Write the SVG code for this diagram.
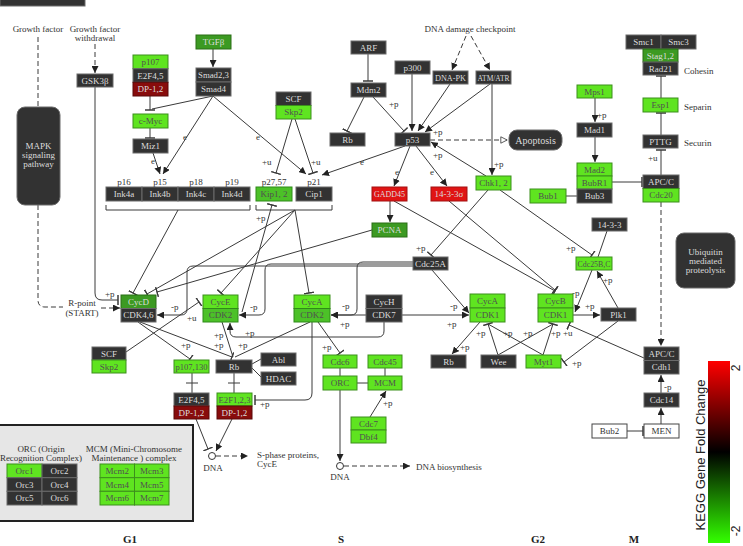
<svg xmlns="http://www.w3.org/2000/svg" width="743" height="546" viewBox="0 0 743 546">
<defs>
<style>
.k{fill:#323232;stroke:#6a6a6a;stroke-width:1}
.g{fill:#5fe420;stroke:#3c8f1c;stroke-width:1}
.m{fill:#3c9a22;stroke:#2a6e16;stroke-width:1}
.c{fill:#4cc128;stroke:#2f8a18;stroke-width:1}
.r{fill:#e01414;stroke:#a31010;stroke-width:1}
.d{fill:#880c0c;stroke:#5a0808;stroke-width:1}
.w{fill:#fff;stroke:#444;stroke-width:1}
text{font-family:"Liberation Serif",serif;font-size:9px}
.t{text-anchor:middle;dominant-baseline:central}
.l{fill:#dcdcdc}
.n{fill:#505050}
.lb{fill:#333}
.e path{fill:none;stroke:#3a3a3a;stroke-width:1}
.ds{stroke-dasharray:5 3}
.ph{font-weight:bold;font-size:11px;fill:#222;text-anchor:middle}
.sans{font-family:"Liberation Sans",sans-serif;font-size:13px;fill:#222;text-anchor:middle;dominant-baseline:central}
</style>
<marker id="a" viewBox="0 0 10 10" refX="10" refY="5" markerWidth="7" markerHeight="7" orient="auto" markerUnits="userSpaceOnUse"><path d="M0,0L10,5L0,10z" fill="#222"/></marker>
<marker id="i" viewBox="0 0 2 10" refX="1" refY="5" markerWidth="2" markerHeight="10" orient="auto" markerUnits="userSpaceOnUse"><path d="M1,0V10" stroke="#3a3a3a" stroke-width="1.5"/></marker>
<marker id="h" viewBox="0 0 10 10" refX="10" refY="5" markerWidth="8" markerHeight="8" orient="auto" markerUnits="userSpaceOnUse"><path d="M1,1L9,5L1,9z" fill="#fff" stroke="#333"/></marker>
<linearGradient id="fc" x1="0" y1="0" x2="0" y2="1"><stop offset="0" stop-color="#ff0000"/><stop offset="0.5" stop-color="#000"/><stop offset="1" stop-color="#33ff00"/></linearGradient>
</defs>
<rect width="743" height="546" fill="#fff"/>

<g id="title"><rect x="0" y="-10" width="85" height="16" class="k"/></g>

<!-- connectors -->
<g id="edges" class="e">
<path class="ds" d="M38 37V107"/>
<path class="ds" d="M95 44V73" marker-end="url(#a)"/>
<path class="ds" d="M38 205V300Q38 307 45 307H63"/>
<path class="ds" d="M101 308H120" marker-end="url(#a)"/>
<path class="ds" d="M466 36L452 70" marker-end="url(#a)"/>
<path class="ds" d="M471 36L490 70" marker-end="url(#a)"/>
<path class="ds" d="M430 140H508" marker-end="url(#h)"/>
<path class="ds" d="M661 202V346" marker-end="url(#a)"/>
<path class="ds" d="M216 456H248" marker-end="url(#a)"/>
<path class="ds" d="M344 466H410" marker-end="url(#a)"/>

<path d="M95 87V293Q95 300 102 300H118" marker-end="url(#i)"/>
<path d="M213 49V67" marker-end="url(#a)"/>
<path d="M150 96V110" marker-end="url(#i)"/>
<path d="M213 96L152 109"/>
<path d="M150 128V138" marker-end="url(#i)"/>
<path d="M153 153L160 174" marker-end="url(#a)"/>
<path d="M213 96L163 174" marker-end="url(#a)"/>
<path d="M213 96L306 174" marker-end="url(#a)"/>
<path d="M368 54V81" marker-end="url(#i)"/>
<path d="M364 97L347 131" marker-end="url(#i)"/>
<path d="M373 97L404 131" marker-end="url(#i)"/>
<path d="M412 74V131" marker-end="url(#a)"/>
<path d="M450 84L418 131" marker-end="url(#a)"/>
<path d="M490 84L425 132" marker-end="url(#a)"/>
<path d="M492 84V175" marker-end="url(#a)"/>
<path d="M486 176L431 142" marker-end="url(#a)"/>
<path d="M292 119L276 173" marker-end="url(#i)"/>
<path d="M295 119L313 173" marker-end="url(#i)"/>
<path d="M405 146L322 175" marker-end="url(#a)"/>
<path d="M410 146L394 186" marker-end="url(#a)"/>
<path d="M416 146L447 186" marker-end="url(#a)"/>
<path d="M390 201V222" marker-end="url(#a)"/>
<path d="M394 201L555 291" marker-end="url(#i)"/>
<path d="M449 201L555 290" marker-end="url(#i)"/>
<path d="M488 190L431 255" marker-end="url(#i)"/>
<path d="M500 190L592 255" marker-end="url(#i)"/>
<path d="M595 98V122" marker-end="url(#a)"/>
<path d="M595 137V162" marker-end="url(#a)"/>
<path d="M566 196H577"/>
<path d="M612 182H642" marker-end="url(#i)"/>
<path d="M661 175V150" marker-end="url(#i)"/>
<path d="M661 135V113" marker-end="url(#i)"/>
<path d="M661 98V76" marker-end="url(#i)"/>
<path d="M607 231L598 257"/>
<path d="M618 308L597 271" marker-end="url(#a)"/>
<path d="M592 270L575 312" marker-end="url(#a)"/>
<path d="M573 315H600" marker-end="url(#a)"/>
<path d="M618 321L564 362" marker-end="url(#i)"/>
<path d="M644 358L569 325" marker-end="url(#i)"/>
<path d="M498 355L488 324" marker-end="url(#i)"/>
<path d="M498 355L553 324"/>
<path d="M543 355L488 324"/>
<path d="M543 355L553 324" marker-end="url(#i)"/>
<path d="M480 322L452 354" marker-end="url(#a)"/>
<path d="M432 270L469 313" marker-end="url(#a)"/>
<path d="M402 315H469" marker-end="url(#a)"/>
<path d="M366 315H331" marker-end="url(#a)"/>
<path d="M384 322V331Q384 337 378 337H236Q230 337 230 331V323" marker-end="url(#a)"/>
<path d="M413 262H363Q357 262 357 268V309Q357 315 351 315H331" marker-end="url(#a)"/>
<path d="M413 264H271Q265 264 265 270V309Q265 315 259 315H239" marker-end="url(#a)"/>
<path d="M413 266H193Q187 266 187 272V309Q187 315 181 315H157" marker-end="url(#a)"/>
<path d="M372 230L157 292" marker-end="url(#i)"/>
<path d="M256 205V210H332V205"/>
<path d="M295 210L147 294" marker-end="url(#i)"/>
<path d="M295 210L221 293" marker-end="url(#i)"/>
<path d="M295 210L309 293" marker-end="url(#i)"/>
<path d="M106 205V210H250V205"/>
<path d="M178 210L133 293" marker-end="url(#i)"/>
<path d="M242 312L272 205" marker-end="url(#i)"/>
<path d="M126 352L199 302" marker-end="url(#i)"/>
<path d="M140 322L232 357" marker-end="url(#i)"/>
<path d="M138 322L190 359" marker-end="url(#i)"/>
<path d="M222 322L233 357"/>
<path d="M310 322L235 357"/>
<path d="M252 364L261 359"/>
<path d="M252 368L261 377"/>
<path d="M192 373V393M186 383H198"/>
<path d="M234 373V393M228 383H240"/>
<path d="M312 322V393Q312 400 305 400H255" marker-end="url(#i)"/>
<path d="M318 322L340 353" marker-end="url(#i)"/>
<path d="M340 368V376"/>
<path d="M385 368V376"/>
<path d="M357 383H368"/>
<path d="M370 417L386 391" marker-end="url(#a)"/>
<path d="M340 390V461" marker-end="url(#a)"/>
<path d="M196 419L208 449" marker-end="url(#i)"/>
<path d="M232 419L216 451" marker-end="url(#a)"/>
<path d="M661 393V375" marker-end="url(#a)"/>
<path d="M661 424V408" marker-end="url(#a)"/>
<path d="M627 431H643" marker-end="url(#i)"/>
</g>

<!-- edge labels -->
<g id="edge-labels" class="lb">
<text x="105" y="297">+p</text>
<text x="151" y="164">e</text>
<text x="183" y="140">e</text>
<text x="256" y="140">e</text>
<text x="389" y="107">+p</text>
<text x="433" y="135">+p</text>
<text x="433" y="158">+p</text>
<text x="494" y="167">+p</text>
<text x="262" y="165">+u</text>
<text x="311" y="165">+u</text>
<text x="360" y="165">e</text>
<text x="395" y="175">e</text>
<text x="430" y="175">e</text>
<text x="416" y="251">+p</text>
<text x="566" y="251">+p</text>
<text x="597" y="118">+p</text>
<text x="648" y="161">+u</text>
<text x="603" y="283">+p</text>
<text x="572" y="296">-p</text>
<text x="585" y="309">+p</text>
<text x="572" y="366">+p</text>
<text x="476" y="336">+p</text>
<text x="503" y="336">+p</text>
<text x="523" y="336">+p</text>
<text x="551" y="336">+p</text>
<text x="563" y="336">+u</text>
<text x="460" y="350">+p</text>
<text x="450" y="309">-p</text>
<text x="447" y="327">+p</text>
<text x="340" y="327">+p</text>
<text x="245" y="336">+p</text>
<text x="342" y="309">-p</text>
<text x="250" y="310">-p</text>
<text x="171" y="310">-p</text>
<text x="256" y="221">+p</text>
<text x="187" y="321">+u</text>
<text x="181" y="348">+p</text>
<text x="214" y="338">+p</text>
<text x="214" y="348">+p</text>
<text x="238" y="348">+p</text>
<text x="260" y="407">+p</text>
<text x="322" y="350">+p</text>
<text x="383" y="406">+p</text>
<text x="664" y="390">-p</text>
</g>

<!-- plain labels -->
<g id="labels" class="lb">
<text x="38" y="32" text-anchor="middle">Growth factor</text>
<text x="95" y="32" text-anchor="middle">Growth factor</text>
<text x="95" y="41" text-anchor="middle">withdrawal</text>
<text x="470" y="32" text-anchor="middle">DNA damage checkpoint</text>
<text x="684" y="74">Cohesin</text>
<text x="684" y="110">Separin</text>
<text x="684" y="146">Securin</text>
<text x="82" y="306" text-anchor="middle">R-point</text>
<text x="82" y="315.5" text-anchor="middle">(START)</text>
<text x="257" y="458">S-phase proteins,</text>
<text x="257" y="467">CycE</text>
<text x="213" y="471" text-anchor="middle">DNA</text>
<text x="340" y="480" text-anchor="middle">DNA</text>
<text x="416" y="470">DNA biosynthesis</text>
<text x="124" y="185" text-anchor="middle">p16</text>
<text x="160" y="185" text-anchor="middle">p15</text>
<text x="196" y="185" text-anchor="middle">p18</text>
<text x="232" y="185" text-anchor="middle">p19</text>
<text x="274" y="185" text-anchor="middle">p27,57</text>
<text x="314" y="185" text-anchor="middle">p21</text>
<text class="ph" x="130" y="543">G1</text>
<text class="ph" x="341" y="543">S</text>
<text class="ph" x="538" y="543">G2</text>
<text class="ph" x="634" y="543">M</text>
</g>

<g id="dna1"><circle cx="212" cy="456" r="3.5" fill="#fff" stroke="#333"/></g>
<g id="dna2"><circle cx="340" cy="466" r="3.5" fill="#fff" stroke="#333"/></g>

<!-- nodes -->
<g id="mapk"><rect x="17" y="107" width="43" height="98" rx="8" class="k"/><text class="t l" x="38.5" y="146">MAPK</text><text class="t l" x="38.5" y="155">signaling</text><text class="t l" x="38.5" y="164">pathway</text></g>
<g id="gsk3b"><rect x="77" y="74" width="36" height="13" class="k"/><text class="t l" x="95" y="80.5">GSK3β</text></g>
<g id="p107-e2f45"><rect x="133" y="55" width="35" height="13.7" class="g"/><rect x="133" y="68.7" width="35" height="13.6" class="k"/><rect x="133" y="82.3" width="35" height="13.7" class="d"/><text class="t n" x="150.5" y="61.9">p107</text><text class="t l" x="150.5" y="75.5">E2F4,5</text><text class="t l" x="150.5" y="89.1">DP-1,2</text></g>
<g id="tgfb"><rect x="196" y="35" width="35" height="14" class="m"/><text class="t l" x="213.5" y="42">TGFβ</text></g>
<g id="smad"><rect x="196" y="68" width="35" height="14" class="k"/><rect x="196" y="82" width="35" height="14" class="k"/><text class="t l" x="213.5" y="75" textLength="31" lengthAdjust="spacingAndGlyphs">Smad2,3</text><text class="t l" x="213.5" y="89">Smad4</text></g>
<g id="cmyc"><rect x="133" y="114" width="35" height="14" class="g"/><text class="t n" x="150.5" y="121">c-Myc</text></g>
<g id="miz1"><rect x="133" y="139" width="35" height="14" class="k"/><text class="t l" x="150.5" y="146">Miz1</text></g>
<g id="ink4"><rect x="106" y="187" width="36" height="14" class="k"/><rect x="142" y="187" width="36" height="14" class="k"/><rect x="178" y="187" width="36" height="14" class="k"/><rect x="214" y="187" width="36" height="14" class="k"/><text class="t l" x="124" y="194">Ink4a</text><text class="t l" x="160" y="194">Ink4b</text><text class="t l" x="196" y="194">Ink4c</text><text class="t l" x="232" y="194">Ink4d</text></g>
<g id="scf-skp2-top"><rect x="276" y="92" width="35" height="13.5" class="k"/><rect x="276" y="105.5" width="35" height="13.5" class="g"/><text class="t l" x="293.5" y="98.75">SCF</text><text class="t n" x="293.5" y="112.25">Skp2</text></g>
<g id="kip-cip"><rect x="256" y="187" width="36" height="14" class="c"/><rect x="296" y="187" width="36" height="14" class="k"/><text class="t n" x="274" y="194">Kip1, 2</text><text class="t l" x="314" y="194">Cip1</text></g>
<g id="arf"><rect x="351" y="41" width="35" height="13" class="k"/><text class="t l" x="368.5" y="47.5">ARF</text></g>
<g id="mdm2"><rect x="351" y="83" width="35" height="14" class="k"/><text class="t l" x="368.5" y="90">Mdm2</text></g>
<g id="rb-top"><rect x="330" y="133" width="35" height="13" class="k"/><text class="t l" x="347.5" y="139.5">Rb</text></g>
<g id="p300"><rect x="395" y="61" width="35" height="13" class="k"/><text class="t l" x="412.5" y="67.5">p300</text></g>
<g id="p53"><rect x="395" y="133" width="35" height="13" class="k"/><text class="t l" x="412.5" y="139.5">p53</text></g>
<g id="dnapk"><rect x="433" y="71" width="35" height="13" class="k"/><text class="t l" x="450.5" y="77.5" textLength="31" lengthAdjust="spacingAndGlyphs">DNA-PK</text></g>
<g id="atm"><rect x="476" y="71" width="35" height="13" class="k"/><text class="t l" x="493.5" y="77.5" textLength="32" lengthAdjust="spacingAndGlyphs">ATM/ATR</text></g>
<g id="apoptosis"><rect x="509" y="130" width="53" height="20" rx="8" class="k"/><text class="t l" x="535.5" y="140" style="font-size:10px">Apoptosis</text></g>
<g id="gadd45"><rect x="372" y="187" width="35" height="14" class="r"/><text class="t l" x="389.5" y="194" textLength="31" lengthAdjust="spacingAndGlyphs">GADD45</text></g>
<g id="s14-3-3s"><rect x="431" y="187" width="36" height="14" class="r"/><text class="t l" x="449" y="194">14-3-3σ</text></g>
<g id="chk"><rect x="476" y="176" width="35" height="14" class="g"/><text class="t n" x="493.5" y="183">Chk1, 2</text></g>
<g id="pcna"><rect x="372" y="223" width="35" height="14" class="m"/><text class="t l" x="389.5" y="230">PCNA</text></g>
<g id="cdc25a"><rect x="413" y="257" width="35" height="13" class="k"/><text class="t l" x="430.5" y="263.5" textLength="31" lengthAdjust="spacingAndGlyphs">Cdc25A</text></g>
<g id="mps1"><rect x="577" y="85" width="35" height="13" class="g"/><text class="t n" x="594.5" y="91.5">Mps1</text></g>
<g id="mad1"><rect x="577" y="123" width="35" height="14" class="k"/><text class="t l" x="594.5" y="130">Mad1</text></g>
<g id="mad2"><rect x="577" y="163" width="35" height="13" class="g"/><rect x="577" y="176" width="35" height="13" class="g"/><rect x="577" y="189" width="35" height="14" class="k"/><text class="t n" x="594.5" y="169.5">Mad2</text><text class="t n" x="594.5" y="182.5">BubR1</text><text class="t l" x="594.5" y="196">Bub3</text></g>
<g id="bub1"><rect x="530" y="189" width="36" height="14" class="g"/><text class="t n" x="548" y="196">Bub1</text></g>
<g id="smc"><rect x="626" y="35" width="35" height="14" class="k"/><rect x="661" y="35" width="35" height="14" class="k"/><text class="t l" x="643.5" y="42">Smc1</text><text class="t l" x="678.5" y="42">Smc3</text></g>
<g id="stag"><rect x="643" y="49" width="35" height="13" class="m"/><rect x="643" y="62" width="35" height="13" class="k"/><text class="t l" x="660.5" y="55.5">Stag1,2</text><text class="t l" x="660.5" y="68.5">Rad21</text></g>
<g id="esp1"><rect x="643" y="98" width="35" height="14" class="g"/><text class="t n" x="660.5" y="105">Esp1</text></g>
<g id="pttg"><rect x="643" y="135" width="35" height="13" class="k"/><text class="t l" x="660.5" y="141.5">PTTG</text></g>
<g id="apc-cdc20"><rect x="643" y="175" width="36" height="13.5" class="k"/><rect x="643" y="188.5" width="36" height="13.5" class="g"/><text class="t l" x="661" y="181.75">APC/C</text><text class="t n" x="661" y="195.25">Cdc20</text></g>
<g id="ubiquitin"><rect x="676" y="233" width="59" height="55" rx="8" class="k"/><text class="t l" x="705.5" y="252">Ubiquitin</text><text class="t l" x="705.5" y="261">mediated</text><text class="t l" x="705.5" y="270">proteolysis</text></g>
<g id="cycd"><rect x="121" y="295" width="35" height="13.5" class="m"/><rect x="121" y="308.5" width="35" height="13.5" class="k"/><text class="t l" x="138.5" y="301.75">CycD</text><text class="t l" x="138.5" y="315.25">CDK4,6</text></g>
<g id="cyce"><rect x="203" y="295" width="35" height="13.5" class="g"/><rect x="203" y="308.5" width="35" height="13.5" class="c"/><text class="t n" x="220.5" y="301.75">CycE</text><text class="t n" x="220.5" y="315.25">CDK2</text></g>
<g id="cyca-cdk2"><rect x="294" y="295" width="36" height="13.5" class="g"/><rect x="294" y="308.5" width="36" height="13.5" class="c"/><text class="t n" x="312" y="301.75">CycA</text><text class="t n" x="312" y="315.25">CDK2</text></g>
<g id="cych"><rect x="366" y="295" width="36" height="13.5" class="k"/><rect x="366" y="308.5" width="36" height="13.5" class="k"/><text class="t l" x="384" y="301.75">CycH</text><text class="t l" x="384" y="315.25">CDK7</text></g>
<g id="cyca-cdk1"><rect x="470" y="294" width="35" height="14" class="g"/><rect x="470" y="308" width="35" height="14" class="g"/><text class="t n" x="487.5" y="301">CycA</text><text class="t n" x="487.5" y="315">CDK1</text></g>
<g id="cycb"><rect x="538" y="294" width="35" height="14" class="g"/><rect x="538" y="308" width="35" height="14" class="g"/><text class="t n" x="555.5" y="301">CycB</text><text class="t n" x="555.5" y="315">CDK1</text></g>
<g id="plk1"><rect x="601" y="308" width="35" height="13" class="k"/><text class="t l" x="618.5" y="314.5">Plk1</text></g>
<g id="cdc25bc"><rect x="576" y="257" width="36" height="13" class="g"/><text class="t n" x="594" y="263.5" textLength="33" lengthAdjust="spacingAndGlyphs">Cdc25B,C</text></g>
<g id="s14-3-3"><rect x="592" y="218" width="35" height="13" class="k"/><text class="t l" x="609.5" y="224.5">14-3-3</text></g>
<g id="scf-skp2"><rect x="92" y="347" width="34" height="13" class="k"/><rect x="92" y="360" width="34" height="13" class="g"/><text class="t l" x="109" y="353.5">SCF</text><text class="t n" x="109" y="366.5">Skp2</text></g>
<g id="p107-130"><rect x="174" y="360" width="35" height="13" class="g"/><text class="t n" x="191.5" y="366.5" textLength="32" lengthAdjust="spacingAndGlyphs">p107,130</text></g>
<g id="rb"><rect x="216" y="360" width="36" height="13" class="k"/><text class="t l" x="234" y="366.5">Rb</text></g>
<g id="abl"><rect x="261" y="353" width="35" height="13" class="k"/><text class="t l" x="278.5" y="359.5">Abl</text></g>
<g id="hdac"><rect x="261" y="372" width="35" height="13" class="k"/><text class="t l" x="278.5" y="378.5">HDAC</text></g>
<g id="e2f45"><rect x="174" y="393" width="35" height="13" class="k"/><rect x="174" y="406" width="35" height="13" class="d"/><text class="t l" x="191.5" y="399.5">E2F4,5</text><text class="t l" x="191.5" y="412.5">DP-1,2</text></g>
<g id="e2f123"><rect x="217" y="393" width="35" height="13" class="g"/><rect x="217" y="406" width="35" height="13" class="d"/><text class="t n" x="234.5" y="399.5" textLength="32" lengthAdjust="spacingAndGlyphs">E2F1,2,3</text><text class="t l" x="234.5" y="412.5">DP-1,2</text></g>
<g id="cdc6"><rect x="323" y="355" width="34" height="13" class="g"/><text class="t n" x="340" y="361.5">Cdc6</text></g>
<g id="cdc45"><rect x="368" y="355" width="34" height="13" class="g"/><text class="t n" x="385" y="361.5">Cdc45</text></g>
<g id="orc"><rect x="323" y="376" width="34" height="14" class="g"/><text class="t n" x="340" y="383">ORC</text></g>
<g id="mcm"><rect x="368" y="376" width="34" height="14" class="g"/><text class="t n" x="385" y="383">MCM</text></g>
<g id="cdc7"><rect x="351" y="417" width="35" height="13" class="g"/><rect x="351" y="430" width="35" height="13" class="g"/><text class="t n" x="368.5" y="423.5">Cdc7</text><text class="t n" x="368.5" y="436.5">Dbf4</text></g>
<g id="rb-g2"><rect x="431" y="355" width="35" height="13" class="k"/><text class="t l" x="448.5" y="361.5">Rb</text></g>
<g id="wee"><rect x="481" y="355" width="35" height="13" class="k"/><text class="t l" x="498.5" y="361.5">Wee</text></g>
<g id="myt1"><rect x="526" y="355" width="35" height="13" class="g"/><text class="t n" x="543.5" y="361.5">Myt1</text></g>
<g id="apc-cdh1"><rect x="644" y="347" width="35" height="13.5" class="k"/><rect x="644" y="360.5" width="35" height="13.5" class="k"/><text class="t l" x="661.5" y="353.75">APC/C</text><text class="t l" x="661.5" y="367.25">Cdh1</text></g>
<g id="cdc14"><rect x="644" y="393" width="35" height="14" class="k"/><text class="t l" x="661.5" y="400">Cdc14</text></g>
<g id="men"><rect x="644" y="424" width="35" height="14" class="w"/><text class="t lb" x="661.5" y="431">MEN</text></g>
<g id="bub2"><rect x="592" y="424" width="35" height="14" class="w"/><text class="t lb" x="609.5" y="431">Bub2</text></g>

<g id="legend-orc-mcm">
<rect x="-2" y="425" width="195" height="96" fill="#e6e6e6" stroke="#222" stroke-width="2"/>
<text class="t lb" x="41" y="449">ORC (Origin</text>
<text class="t lb" x="41" y="458">Recognition Complex)</text>
<text class="t lb" x="134" y="449">MCM (Mini-Chromosome</text>
<text class="t lb" x="134" y="458">Maintenance ) complex</text>
<rect x="7" y="464" width="35" height="13.7" class="g"/><rect x="42" y="464" width="35" height="13.7" class="k"/>
<rect x="7" y="477.7" width="35" height="13.6" class="k"/><rect x="42" y="477.7" width="35" height="13.6" class="k"/>
<rect x="7" y="491.3" width="35" height="13.7" class="k"/><rect x="42" y="491.3" width="35" height="13.7" class="k"/>
<text class="t n" x="24.5" y="470.9">Orc1</text><text class="t l" x="59.5" y="470.9">Orc2</text>
<text class="t l" x="24.5" y="484.5">Orc3</text><text class="t l" x="59.5" y="484.5">Orc4</text>
<text class="t l" x="24.5" y="498.1">Orc5</text><text class="t l" x="59.5" y="498.1">Orc6</text>
<rect x="100" y="464" width="34.5" height="13.7" class="g"/><rect x="134.5" y="464" width="34.5" height="13.7" class="g"/>
<rect x="100" y="477.7" width="34.5" height="13.6" class="g"/><rect x="134.5" y="477.7" width="34.5" height="13.6" class="g"/>
<rect x="100" y="491.3" width="34.5" height="13.7" class="g"/><rect x="134.5" y="491.3" width="34.5" height="13.7" class="g"/>
<text class="t n" x="117.25" y="470.9">Mcm2</text><text class="t n" x="151.75" y="470.9">Mcm3</text>
<text class="t n" x="117.25" y="484.5">Mcm4</text><text class="t n" x="151.75" y="484.5">Mcm5</text>
<text class="t n" x="117.25" y="498.1">Mcm6</text><text class="t n" x="151.75" y="498.1">Mcm7</text>
</g>

<g id="colorbar">
<rect x="708" y="361" width="22" height="182" fill="url(#fc)"/>
<text class="sans" x="700" y="455" transform="rotate(-90 700 455)">KEGG Gene Fold Change</text>
<text class="sans" x="736" y="368" transform="rotate(-90 736 368)" style="font-size:12px">2</text>
<text class="sans" x="736" y="531" transform="rotate(-90 736 531)" style="font-size:12px">-2</text>
</g>
</svg>
